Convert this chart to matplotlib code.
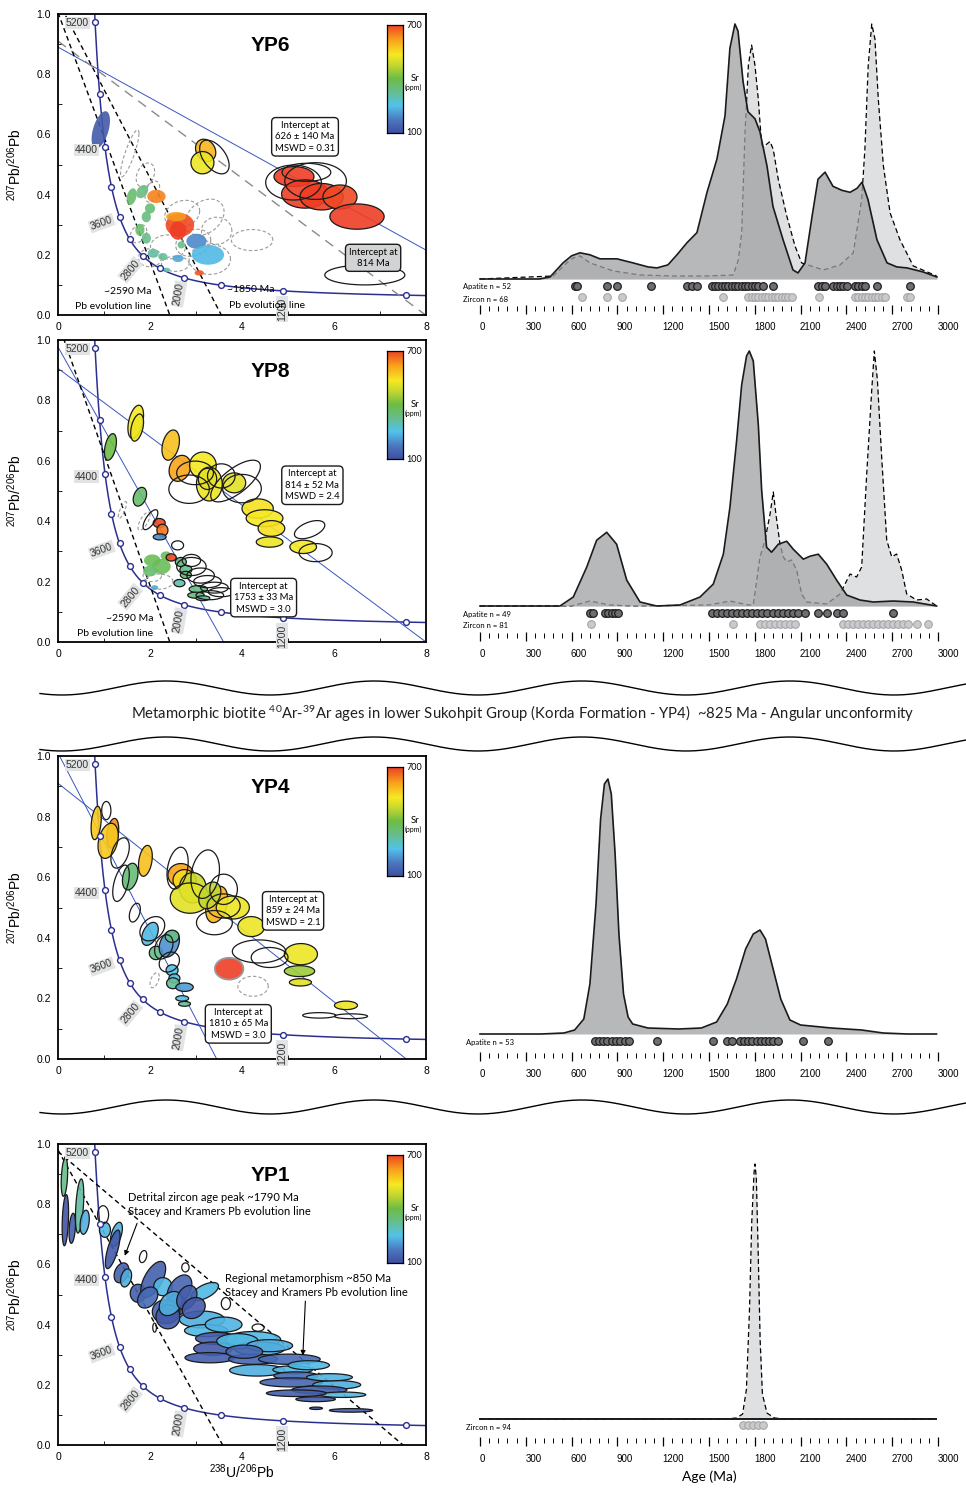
import numpy as np
import matplotlib
matplotlib.use("Agg")
import matplotlib.pyplot as plt
from matplotlib.patches import Polygon
from matplotlib.colors import LinearSegmentedColormap, Normalize

plt.rcParams['font.family'] = ['Liberation Sans', 'DejaVu Sans']
TXT = ['Lato', 'DejaVu Sans']

W, H = 966, 1488
fig = plt.figure(figsize=(W / 100, H / 100), dpi=100)


def px_axes(x0, y0, x1, y1):
    return fig.add_axes([x0 / W, 1 - y1 / H, (x1 - x0) / W, (y1 - y0) / H])


# ---------------- data ----------------
# concordia age ticks (Ma)
conc_ticks = [5200, 4800, 4400, 4000, 3600, 3200, 2800, 2400, 2000, 1600, 1200, 800]
conc_labels = ['5200', '4400', '3600', '2800', '2000', '1200']

# ellipses: centre (238U/206Pb, 207Pb/206Pb), half-extent in x and y, correlation, Sr (ppm), edge
yp6_x = [1.56, 1.90, 2.05, 4.22, 2.70, 3.19, 3.45, 2.94, 2.39, 2.00, 3.30, 2.55, 1.75,
         0.93, 3.21, 3.14, 5.13, 5.37, 5.73, 6.13, 6.50,
         1.60, 1.83, 2.14, 2.00, 1.92, 1.78, 1.92, 2.07, 2.28, 2.65, 2.57, 2.61,
         3.01, 3.26, 3.07, 2.61, 2.68, 2.36,
         3.40, 5.12, 5.60, 5.40, 6.67]
yp6_y = [0.537, 0.465, 0.41, 0.249, 0.336, 0.325, 0.28, 0.24, 0.226, 0.19, 0.185, 0.17, 0.27,
         0.615, 0.547, 0.506, 0.46, 0.402, 0.393, 0.392, 0.327,
         0.393, 0.41, 0.394, 0.354, 0.326, 0.283, 0.255, 0.205, 0.194, 0.299, 0.327, 0.28,
         0.245, 0.20, 0.14, 0.188, 0.233, 0.15,
         0.525, 0.44, 0.445, 0.474, 0.133]
yp6_rx = [0.20, 0.20, 0.16, 0.45, 0.38, 0.42, 0.33, 0.38, 0.38, 0.25, 0.45, 0.30, 0.18,
          0.20, 0.22, 0.25, 0.435, 0.51, 0.47, 0.37, 0.59,
          0.11, 0.13, 0.20, 0.11, 0.10, 0.10, 0.10, 0.12, 0.10, 0.31, 0.22, 0.18,
          0.22, 0.35, 0.10, 0.12, 0.08, 0.08,
          0.32, 0.605, 0.67, 0.53, 0.87]
yp6_ry = [0.078, 0.04, 0.035, 0.035, 0.045, 0.06, 0.045, 0.045, 0.04, 0.03, 0.05, 0.025, 0.03,
          0.062, 0.037, 0.037, 0.033, 0.047, 0.044, 0.04, 0.042,
          0.028, 0.022, 0.022, 0.017, 0.018, 0.02, 0.018, 0.015, 0.012, 0.039, 0.015, 0.03,
          0.025, 0.033, 0.009, 0.012, 0.012, 0.007,
          0.056, 0.058, 0.061, 0.03, 0.033]
yp6_rho = [0.85, 0.3, 0.4, 0.0, 0.2, 0.3, 0.0, 0.2, 0.0, 0.0, 0.0, 0.0, 0.3,
           0.5, -0.2, 0.0, 0.0, 0.0, 0.0, 0.0, 0.0,
           0.3, 0.3, 0.0, 0.0, 0.0, 0.0, 0.0, 0.0, 0.0, 0.0, 0.0, 0.0,
           0.0, 0.0, 0.0, 0.0, 0.0, 0.0,
           -0.5, 0.0, 0.0, 0.0, 0.0]
nan = np.nan
yp6_sr = [nan] * 13 + [120, 590, 520, 700, 700, 700, 690, 700,
                       360, 340, 640, 350, 340, 360, 330, 310, 320, 690, 620, 700,
                       190, 240, 680, 220, 330, 300] + [nan] * 5
yp6_edge = ['d'] * 13 + ['n', 'k', 'k', 'k', 'k', 'k', 'k', 'k'] + ['n'] * 18 + ['k'] * 5

yp8_x = [1.40, 1.87, 2.20, 2.05,
         2.05, 2.25, 2.00, 2.35, 2.10,
         1.69, 1.72, 1.14, 2.45, 2.65, 3.15, 3.29, 3.25, 3.83, 4.34, 4.49, 4.64, 4.60, 5.33,
         1.78, 2.20, 2.27, 2.21, 2.46, 2.67, 2.78, 2.78, 2.64, 3.05, 3.00, 3.15,
         2.98, 2.85, 3.86, 4.00, 3.55, 5.47, 5.60, 2.01, 2.60, 2.90, 3.10, 3.25, 3.40, 3.55, 3.30, 2.90]
yp8_y = [0.437, 0.40, 0.20, 0.22,
         0.27, 0.25, 0.235, 0.285, 0.18,
         0.729, 0.71, 0.646, 0.652, 0.575, 0.585, 0.523, 0.54, 0.527, 0.442, 0.41, 0.376, 0.331, 0.315,
         0.481, 0.394, 0.37, 0.348, 0.28, 0.265, 0.24, 0.222, 0.195, 0.175, 0.155, 0.145,
         0.56, 0.506, 0.533, 0.508, 0.55, 0.372, 0.296, 0.405, 0.32, 0.25, 0.22, 0.20, 0.18, 0.165, 0.155, 0.27]
yp8_rx = [0.09, 0.13, 0.30, 0.20,
          0.18, 0.20, 0.15, 0.12, 0.08,
          0.17, 0.14, 0.13, 0.19, 0.235, 0.29, 0.28, 0.20, 0.25, 0.34, 0.40, 0.29, 0.29, 0.29,
          0.145, 0.13, 0.12, 0.14, 0.11, 0.12, 0.13, 0.12, 0.12, 0.20, 0.18, 0.15,
          0.40, 0.44, 0.54, 0.42, 0.30, 0.33, 0.36, 0.16, 0.13, 0.32, 0.30, 0.30, 0.30, 0.28, 0.30, 0.20]
yp8_ry = [0.028, 0.03, 0.025, 0.02,
          0.02, 0.025, 0.018, 0.015, 0.008,
          0.055, 0.045, 0.044, 0.05, 0.043, 0.044, 0.056, 0.035, 0.033, 0.032, 0.028, 0.026, 0.017, 0.022,
          0.031, 0.015, 0.02, 0.01, 0.012, 0.015, 0.014, 0.012, 0.012, 0.012, 0.01, 0.008,
          0.039, 0.047, 0.069, 0.047, 0.04, 0.03, 0.03, 0.033, 0.015, 0.03, 0.025, 0.02, 0.018, 0.015, 0.015, 0.02]
yp8_rho = [0.8, 0.7, 0.0, 0.0,
           0.0, 0.0, 0.0, 0.0, 0.0,
           0.4, 0.4, 0.4, 0.3, 0.2, 0.0, 0.0, 0.0, 0.0, 0.0, 0.0, 0.0, 0.0, 0.0,
           0.3, 0.0, 0.0, 0.0, 0.0, 0.0, 0.0, 0.0, 0.0, 0.0, 0.0, 0.0,
           0.0, 0.0, 0.7, 0.0, 0.0, 0.5, 0.0, 0.7, 0.0, 0.0, 0.0, 0.0, 0.0, 0.0, 0.0, 0.0]
yp8_sr = [nan] * 4 + [380, 380, 360, 380, 220,
                      530, 520, 400, 580, 610, 530, 520, 510, 510, 540, 530, 540, 520, 530,
                      360, 690, 650, 190, 690, 340, 330, 350, 300, 330, 340, 320] + [nan] * 16
yp8_edge = ['d'] * 4 + ['n'] * 5 + ['k'] * 26 + ['k'] * 16

yp4_x = [4.24, 2.10,
         0.83, 1.19, 1.09, 1.90, 1.57, 2.67, 2.75, 2.93, 2.87, 3.45, 3.30, 3.80, 4.20,
         5.28, 5.25, 5.27, 6.26, 3.72,
         2.00, 2.13, 2.42, 2.48, 2.48, 2.53, 2.50, 2.75, 2.70, 2.75,
         1.35, 1.37, 1.67, 2.60, 3.20, 3.60, 3.40, 4.37, 4.60, 5.68, 6.37, 2.05, 2.42, 2.30, 3.60, 1.05]
yp4_y = [0.24, 0.26,
         0.779, 0.745, 0.72, 0.654, 0.602, 0.607, 0.59, 0.565, 0.531, 0.51, 0.54, 0.50, 0.437,
         0.346, 0.29, 0.253, 0.177, 0.298,
         0.413, 0.35, 0.38, 0.405, 0.293, 0.266, 0.25, 0.237, 0.20, 0.182,
         0.68, 0.58, 0.483, 0.63, 0.61, 0.505, 0.45, 0.355, 0.335, 0.144, 0.141, 0.43, 0.32, 0.37, 0.56, 0.82]
yp4_rx = [0.33, 0.10,
          0.11, 0.13, 0.22, 0.15, 0.17, 0.28, 0.25, 0.29, 0.43, 0.24, 0.24, 0.36, 0.29,
          0.36, 0.33, 0.24, 0.25, 0.31,
          0.18, 0.145, 0.22, 0.15, 0.13, 0.12, 0.14, 0.19, 0.14, 0.13,
          0.20, 0.18, 0.12, 0.23, 0.31, 0.36, 0.39, 0.58, 0.40, 0.36, 0.36, 0.27, 0.22, 0.20, 0.30, 0.10]
yp4_ry = [0.033, 0.025,
          0.055, 0.049, 0.058, 0.051, 0.044, 0.038, 0.035, 0.05, 0.05, 0.06, 0.044, 0.038, 0.033,
          0.035, 0.018, 0.012, 0.014, 0.036,
          0.038, 0.022, 0.044, 0.02, 0.018, 0.015, 0.018, 0.014, 0.009, 0.008,
          0.05, 0.06, 0.031, 0.069, 0.08, 0.04, 0.04, 0.038, 0.033, 0.009, 0.008, 0.04, 0.033, 0.04, 0.05, 0.03]
yp4_rho = [0.0, 0.5,
           0.3, 0.3, 0.3, 0.3, 0.3, 0.0, 0.0, 0.0, 0.0, 0.3, 0.3, 0.0, 0.0,
           0.0, 0.0, 0.0, 0.0, 0.0,
           0.4, 0.0, 0.3, 0.0, 0.0, 0.0, 0.0, 0.0, 0.0, 0.0,
           0.4, 0.5, 0.4, 0.3, 0.2, 0.0, 0.0, 0.0, 0.0, 0.0, 0.0, 0.3, 0.2, 0.3, 0.0, 0.0]
yp4_sr = [nan, nan,
          570, 630, 570, 580, 350, 610, 550, 480, 510, 590, 470, 520, 520,
          520, 440, 510, 520, 700,
          240, 330, 200, 330, 250, 260, 320, 210, 250, 320] + [nan] * 16
yp4_edge = ['d', 'd'] + ['k'] * 17 + ['g'] + ['k'] * 10 + ['k'] * 16

yp1_x = [0.14, 0.16, 0.31, 0.47, 0.58, 1.02, 1.27, 1.19, 1.38, 1.48, 1.74, 2.07, 2.28, 2.64, 2.57,
         2.35, 2.39, 3.19, 3.13, 3.22, 3.44, 4.24, 3.37, 3.30, 4.38, 4.24, 5.03, 4.33, 5.10, 5.17,
         5.07, 6.06, 5.68, 6.19, 5.18, 5.60, 6.37, 5.61,
         1.95, 2.45, 2.80, 2.95, 3.60, 3.90, 4.60, 4.05, 5.45, 5.90,
         0.98, 1.85, 2.77, 4.35, 2.10, 3.65]
yp1_y = [0.89, 0.747, 0.72, 0.794, 0.74, 0.715, 0.70, 0.65, 0.572, 0.555, 0.504, 0.55, 0.526, 0.515, 0.465,
         0.443, 0.426, 0.51, 0.417, 0.38, 0.354, 0.35, 0.32, 0.29, 0.32, 0.285, 0.285, 0.248, 0.25, 0.23,
         0.208, 0.20, 0.183, 0.167, 0.172, 0.152, 0.115, 0.122,
         0.49, 0.47, 0.49, 0.455, 0.40, 0.345, 0.33, 0.31, 0.265, 0.225,
         0.765, 0.626, 0.59, 0.39, 0.39, 0.47]
yp1_rx = [0.07, 0.07, 0.07, 0.09, 0.10, 0.12, 0.13, 0.16, 0.16, 0.12, 0.17, 0.27, 0.20, 0.27, 0.22,
          0.30, 0.26, 0.30, 0.49, 0.47, 0.45, 0.60, 0.42, 0.54, 0.55, 0.53, 0.67, 0.60, 0.43, 0.48,
          0.68, 0.52, 0.60, 0.50, 0.65, 0.43, 0.47, 0.14,
          0.22, 0.25, 0.22, 0.25, 0.40, 0.45, 0.50, 0.40, 0.45, 0.50,
          0.12, 0.08, 0.08, 0.13, 0.04, 0.10]
yp1_ry = [0.064, 0.085, 0.05, 0.09, 0.04, 0.025, 0.04, 0.064, 0.033, 0.03, 0.03, 0.06, 0.03, 0.05, 0.035,
          0.04, 0.04, 0.03, 0.028, 0.02, 0.02, 0.027, 0.022, 0.017, 0.022, 0.017, 0.017, 0.019, 0.013, 0.013,
          0.015, 0.014, 0.013, 0.009, 0.011, 0.008, 0.006, 0.004,
          0.035, 0.04, 0.04, 0.035, 0.025, 0.025, 0.02, 0.022, 0.015, 0.012,
          0.03, 0.02, 0.015, 0.012, 0.015, 0.02]
yp1_rho = [0.3, 0.3, 0.3, 0.4, 0.3, 0.0, 0.5, 0.7, 0.3, 0.3, 0.0, 0.6, 0.0, 0.4, 0.0,
           0.0, 0.0, 0.6, 0.0, 0.0, 0.0, 0.0, 0.0, 0.0, 0.0, 0.0, 0.0, 0.0, 0.0, 0.0,
           0.0, 0.0, 0.0, 0.0, 0.0, 0.0, 0.0, 0.0,
           0.3, 0.3, 0.3, 0.2, 0.0, 0.0, 0.0, 0.0, 0.0, 0.0,
           0.0, 0.3, 0.0, 0.0, 0.0, 0.0]
yp1_sr = [330, 110, 130, 310, 230, 240, 230, 120, 130, 230, 130, 130, 240, 140, 130,
          140, 120, 240, 230, 240, 130, 240, 120, 130, 230, 140, 150, 230, 240, 150,
          140, 230, 130, 240, 130, 120, 130, 110,
          150, 230, 130, 120, 235, 240, 230, 140, 240, 235] + [nan] * 6
yp1_edge = ['k'] * 54

# detrital age distributions: relative probability read at selected ages (Ma)
yp6_ap_age = [0, 390, 459, 544, 600, 655, 720, 786, 897, 1002, 1100, 1159, 1231, 1290, 1356, 1421,
              1487, 1552, 1605, 1637, 1670, 1690, 1723, 1755, 1801, 1834, 1880, 1919, 1985, 2050,
              2083, 2129, 2175, 2214, 2260, 2312, 2370, 2424, 2470, 2502, 2541, 2600, 2666, 2730,
              2797, 2902, 2993]
yp6_ap_den = [0, 0, 2, 16, 23, 26, 24, 20, 20, 16, 12, 11, 14, 24, 36, 46,
              86, 119, 162, 229, 253, 246, 196, 166, 159, 146, 112, 72, 39, 9,
              6, 16, 62, 99, 106, 92, 88, 86, 90, 96, 79, 39, 16, 12,
              11, 7, 2]
yp6_zr_age = [0, 480, 568, 611, 655, 721, 873, 1048, 1266, 1485, 1659, 1692, 1714, 1736, 1758,
              1779, 1801, 1823, 1845, 1867, 1900, 1921, 1954, 2009, 2063, 2107, 2249, 2358, 2445,
              2500, 2521, 2543, 2566, 2587, 2609, 2642, 2686, 2751, 2838, 2991]
yp6_zr_den = [0, 3, 16, 21, 23, 16, 8, 4, 3, 3, 4, 19, 46, 146, 213,
              233, 213, 179, 133, 133, 137, 129, 99, 63, 33, 16, 9, 14, 26,
              79, 129, 213, 254, 239, 179, 113, 66, 39, 13, 3]
yp8_ap_age = [0, 524, 611, 699, 764, 830, 895, 961, 1048, 1157, 1310, 1441, 1528, 1594, 1637,
              1681, 1714, 1746, 1764, 1790, 1823, 1845, 1877, 1910, 1954, 2009, 2052, 2118,
              2162, 2216, 2271, 2336, 2402, 2489, 2576, 2707, 2838, 2991]
yp8_ap_den = [0, 0, 9, 39, 66, 74, 62, 26, 4, 0, 1, 9, 22, 52, 99,
              166, 222, 251, 256, 246, 182, 116, 59, 54, 62, 65, 57, 47,
              50, 52, 42, 26, 11, 6, 4, 5, 4, 0]
yp8_zr_age = [0, 600, 720, 850, 1000, 1500, 1637, 1760, 1790, 1834, 1867, 1900, 1921, 1939,
              1965, 1987, 2009, 2041, 2074, 2107, 2140, 2271, 2358, 2424, 2467, 2500, 2533,
              2566, 2583, 2603, 2631, 2664, 2697, 2729, 2762, 2795, 2860, 2926, 2991]
yp8_zr_den = [0, 0, 5, 1, 0, 1, 5, 1, 1, 49, 66, 92, 114, 91,
              62, 49, 44, 46, 36, 12, 4, 2, 12, 32, 29, 39, 132,
              216, 255, 226, 149, 66, 49, 52, 36, 12, 6, 7, 0]
yp4_ap_age = [0, 400, 550, 620, 680, 720, 760, 790, 815, 838, 860, 885, 910, 940, 970, 1000,
              1100, 1300, 1450, 1550, 1620, 1680, 1740, 1790, 1834, 1870, 1920, 1970, 2030,
              2100, 2300, 2500, 2640, 2800, 2990]
yp4_ap_den = [0, 0, 1, 4, 15, 50, 130, 215, 250, 255, 240, 180, 100, 40, 17, 10,
              6, 5, 6, 12, 30, 55, 85, 100, 104, 95, 65, 35, 14,
              9, 6, 4, 1, 0, 0]
yp1_zr_age = [0, 1600, 1680, 1720, 1745, 1765, 1780, 1795, 1801, 1810, 1822, 1835, 1850,
              1880, 1930, 2000, 2990]
yp1_zr_den = [0, 0, 1, 5, 30, 110, 200, 250, 259, 245, 170, 80, 25,
              6, 1, 0, 0]

# individual grain ages (Ma)
yp6_ap_dots = [622, 637, 829, 895, 1118, 1354, 1386, 1419, 1517, 1539, 1561, 1583, 1605, 1626,
               1648, 1670, 1692, 1714, 1736, 1758, 1779, 1801, 1823, 1856, 1917, 2216, 2238,
               2260, 2314, 2336, 2358, 2380, 2402, 2456, 2478, 2500, 2521, 2598, 2816]
yp6_zr_dots = [666, 829, 928, 1594, 1758, 1779, 1801, 1823, 1845, 1867, 1889, 1910, 1932, 1954,
               1976, 1998, 2020, 2041, 2222, 2456, 2478, 2500, 2521, 2543, 2565, 2587, 2609,
               2631, 2653, 2795, 2816]
yp8_ap_dots = [721, 742, 819, 840, 862, 884, 906, 1517, 1550, 1583, 1616, 1648, 1681, 1714,
               1747, 1779, 1812, 1845, 1878, 1921, 1954, 1987, 2020, 2052, 2085, 2129, 2216,
               2271, 2336, 2380, 2707]
yp8_zr_dots = [725, 1659, 1834, 1867, 1900, 1932, 1965, 1998, 2031, 2063, 2380, 2413, 2445,
               2478, 2511, 2543, 2576, 2609, 2642, 2674, 2707, 2740, 2773, 2806, 2860, 2937]
yp4_ap_dots = [753, 782, 808, 834, 862, 888, 917, 950, 978, 1162, 1528, 1620, 1648, 1703,
               1729, 1758, 1784, 1812, 1838, 1867, 1893, 1921, 1954, 2118, 2282]
yp1_zr_dots = [1725, 1757, 1790, 1823, 1851]

# ---------------- helpers ----------------
sr_cmap = LinearSegmentedColormap.from_list('sr', [
    (0.00, '#3f4fa1'), (0.12, '#4b78bf'), (0.25, '#52c3ea'), (0.38, '#67bd8c'),
    (0.50, '#6cbd45'), (0.62, '#c2d72f'), (0.72, '#f7e922'), (0.85, '#f9a61c'),
    (1.00, '#ee3e24')])
sr_norm = Normalize(100, 700)

L238, L235, U85 = 1.55125e-10, 9.8485e-10, 137.88


def tera_wasserburg(t_ma):
    t = np.asarray(t_ma, dtype=float) * 1e6
    e8 = np.exp(L238 * t) - 1
    e5 = np.exp(L235 * t) - 1
    return 1 / e8, e5 / e8 / U85


def ellipse_xy(cx, cy, rx, ry, rho, n=90):
    t = np.linspace(0, 2 * np.pi, n)
    u, v = np.cos(t), np.sin(t)
    return np.column_stack([cx + rx * u, cy + ry * (rho * u + np.sqrt(1 - rho ** 2) * v)])


def draw_ellipses(ax, ex, ey, erx, ery, erho, esr, eedge):
    for x, y, rx, ry, r, sr, e in zip(ex, ey, erx, ery, erho, esr, eedge):
        if np.isfinite(sr):
            c = sr_cmap(sr_norm(sr))
            fc = (c[0], c[1], c[2], 0.9)
        else:
            fc = 'none'
        style = {'k': ('#1a1a1a', '-', 0.9), 'd': ('#9a9a9a', (0, (3, 2)), 0.8),
                 'g': ('#9a9a9a', '-', 1.3), 'n': ('none', '-', 0)}[e]
        ax.add_patch(Polygon(ellipse_xy(x, y, rx, ry, r), closed=True, fc=fc,
                             ec=style[0], ls=style[1], lw=style[2], zorder=3))


def tw_frame(ax, name, show_xlabel=False):
    ax.set_xlim(0, 8)
    ax.set_ylim(0, 1)
    ax.set_xticks([0, 2, 4, 6, 8])
    ax.set_yticks([0, 0.2, 0.4, 0.6, 0.8, 1.0])
    ax.set_yticklabels(['0.0', '0.2', '0.4', '0.6', '0.8', '1.0'])
    ax.set_xticks([1, 3, 5, 7], minor=True)
    ax.set_yticks([0.1, 0.3, 0.5, 0.7, 0.9], minor=True)
    ax.tick_params(which='major', direction='in', length=0, labelsize=7.5, pad=5)
    ax.tick_params(which='minor', direction='in', length=3, width=0.6)
    for s in ax.spines.values():
        s.set_linewidth(1.3)
    ax.text(0.576, 0.895, name, transform=ax.transAxes, ha='center', va='center',
            fontsize=15, fontweight='bold')
    # y label, centred 15 px from the figure's left edge
    ax.text(-43 / 368, 0.5, r'$\mathregular{^{207}Pb/^{206}Pb}$', transform=ax.transAxes,
            rotation=90, ha='center', va='center', fontsize=10)
    if show_xlabel:
        ax.set_xlabel(r'$\mathregular{^{238}U/^{206}Pb}$', fontsize=10, labelpad=0)

    # concordia
    tt = np.linspace(5600, 700, 700)
    cx, cy = tera_wasserburg(tt)
    ax.plot(cx, cy, color='#2b2f8f', lw=1.1, zorder=2)
    mx, my = tera_wasserburg(conc_ticks)
    ax.plot(mx, my, 'o', ms=4.2, mfc='white', mec='#2b2f8f', mew=1.0, zorder=5, clip_on=False)
    lab_pos = [(0.42, 0.97, 0), (0.62, 0.548, 0), (0.95, 0.305, 20), (1.57, 0.15, 50),
               (2.63, 0.07, 80), (4.87, 0.02, 90)]
    for lab, (lx, ly, rot) in zip(conc_labels, lab_pos):
        ax.text(lx, ly, lab, rotation=rot, ha='center', va='center', fontsize=7.5,
                color='#333333', zorder=6,
                bbox=dict(boxstyle='square,pad=0.12', fc='#e2e3e4', ec='none'))

    # Sr colour bar
    cax = ax.inset_axes([0.894, 0.605, 0.0435, 0.359])
    grad = np.linspace(0, 1, 256)[:, None]
    cax.imshow(grad, aspect='auto', cmap=sr_cmap, origin='lower', extent=(0, 1, 0, 1))
    cax.set_xticks([])
    cax.set_yticks([])
    for s in cax.spines.values():
        s.set_linewidth(0.9)
    ax.text(0.946, 0.963, '700', transform=ax.transAxes, fontsize=6.5, va='center', family=TXT)
    ax.text(0.946, 0.605, '100', transform=ax.transAxes, fontsize=6.5, va='center', family=TXT)
    ax.text(0.958, 0.787, 'Sr', transform=ax.transAxes, fontsize=7, va='center', family=TXT)
    ax.text(0.943, 0.757, '(ppm)', transform=ax.transAxes, fontsize=5, va='center', family=TXT)


def chord(ax, y0, x0, **kw):
    # straight line through (0, y0) and (x0, 0)
    xs = np.array([0, 8])
    ax.plot(xs, y0 * (1 - xs / x0), zorder=2.5, **kw)


def note(ax, x, y, s, fc='white'):
    ax.text(x, y, s, ha='center', va='center', fontsize=6.8, linespacing=1.35, family=TXT,
            zorder=7, bbox=dict(boxstyle='round,pad=0.35,rounding_size=0.45', fc=fc,
                                ec='#1a1a1a', lw=1.0))


BLUE = dict(color='#3a55c0', lw=0.7)
BLACKDASH = dict(color='k', lw=1.0, ls=(0, (3.5, 2.5)))
GREYDASH = dict(color='#8a8a8a', lw=1.0, ls=(0, (7, 5)))

# ---------------- TW panels ----------------
ax6 = px_axes(58, 14, 426, 315)
tw_frame(ax6, 'YP6')
chord(ax6, 0.89, 10.56, **BLUE)
chord(ax6, 0.91, 7.99, **GREYDASH)
chord(ax6, 1.005, 2.43, **BLACKDASH)
chord(ax6, 1.043, 3.55, **BLACKDASH)
draw_ellipses(ax6, yp6_x, yp6_y, yp6_rx, yp6_ry, yp6_rho, yp6_sr, yp6_edge)
note(ax6, 5.37, 0.592, 'Intercept at\n626 ± 140 Ma\nMSWD = 0.31')
note(ax6, 6.85, 0.19, 'Intercept at\n814 Ma', fc='#d1d3d4')
ax6.text(1.52, 0.078, '~2590 Ma', ha='center', va='center', fontsize=7.5, family=TXT, zorder=6)
ax6.text(1.20, 0.028, 'Pb evolution line', ha='center', va='center', fontsize=7.5, family=TXT, zorder=6)
ax6.text(4.20, 0.085, '~1850 Ma', ha='center', va='center', fontsize=7.5, family=TXT, zorder=6)
ax6.text(4.55, 0.033, 'Pb evolution line', ha='center', va='center', fontsize=7.5, family=TXT, zorder=6)

ax8 = px_axes(58, 340, 426, 642)
tw_frame(ax8, 'YP8')
chord(ax8, 0.906, 8.0, **BLUE)
chord(ax8, 0.977, 3.6, **BLUE)
chord(ax8, 1.058, 2.43, **BLACKDASH)
draw_ellipses(ax8, yp8_x, yp8_y, yp8_rx, yp8_ry, yp8_rho, yp8_sr, yp8_edge)
note(ax8, 5.53, 0.519, 'Intercept at\n814 ± 52 Ma\nMSWD = 2.4')
note(ax8, 4.47, 0.147, 'Intercept at\n1753 ± 33 Ma\nMSWD = 3.0')
ax8.text(1.56, 0.077, '~2590 Ma', ha='center', va='center', fontsize=7.5, family=TXT, zorder=6)
ax8.text(1.23, 0.028, 'Pb evolution line', ha='center', va='center', fontsize=7.5, family=TXT, zorder=6)

ax4 = px_axes(58, 756, 426, 1059)
tw_frame(ax4, 'YP4')
chord(ax4, 0.91, 7.57, **BLUE)
chord(ax4, 1.01, 3.45, **BLUE)
draw_ellipses(ax4, yp4_x, yp4_y, yp4_rx, yp4_ry, yp4_rho, yp4_sr, yp4_edge)
note(ax4, 5.11, 0.489, 'Intercept at\n859 ± 24 Ma\nMSWD = 2.1')
note(ax4, 3.92, 0.116, 'Intercept at\n1810 ± 65 Ma\nMSWD = 3.0')

ax1 = px_axes(58, 1144, 426, 1445)
tw_frame(ax1, 'YP1', show_xlabel=True)
chord(ax1, 0.98, 3.58, **BLACKDASH)
chord(ax1, 0.975, 7.5, **BLACKDASH)
draw_ellipses(ax1, yp1_x, yp1_y, yp1_rx, yp1_ry, yp1_rho, yp1_sr, yp1_edge)
ax1.text(1.52, 0.80, 'Detrital zircon age peak ~1790 Ma\nStacey and Kramers Pb evolution line',
         ha='left', va='center', fontsize=8, linespacing=1.3, family=TXT, zorder=7)
ax1.text(3.62, 0.531, 'Regional metamorphism ~850 Ma\nStacey and Kramers Pb evolution line',
         ha='left', va='center', fontsize=8, linespacing=1.3, family=TXT, zorder=7)
ax1.annotate('', xy=(1.43, 0.62), xytext=(1.74, 0.745), zorder=7,
             arrowprops=dict(arrowstyle='-|>', color='k', lw=0.8, mutation_scale=7))
ax1.annotate('', xy=(5.32, 0.288), xytext=(5.38, 0.487), zorder=7,
             arrowprops=dict(arrowstyle='-|>', color='k', lw=0.8, mutation_scale=7))

# ---------------- age distributions ----------------
SX = 3000 / 458.0
PEAK = 255.0
AP_FILL, ZR_FILL = '#9fa0a2', '#dfe0e2'


def kde_axes(top, bottom, base, two_rows):
    ax = px_axes(440, top, 966, bottom)
    ax.set_xlim((440 - 480) * SX, (966 - 480) * SX)
    ax.set_ylim(-(bottom - base), base - top)
    ax.axis('off')
    off = 0 if two_rows else 8
    # age scale
    for a in range(0, 3001, 60):
        major = a % 300 == 0
        y0, y1 = (-26 + off, -35 + off) if major else (-27 + off, -32 + off)
        ax.plot([a, a], [y0, y1], color='k', lw=0.9 if major else 0.7, solid_capstyle='butt')
        if major:
            ax.text(a - 4, -48 + off, str(a), ha='left', va='center', fontsize=7)
    return ax


def draw_zircon(ax, age, den):
    y = np.array(den, float) / max(den) * PEAK
    ax.fill_between(age, 0, y, color=ZR_FILL, lw=0, zorder=1)
    ax.plot(age, y, color='k', lw=0.9, ls=(0, (4, 2.5)), zorder=2)


def draw_apatite(ax, age, den):
    y = np.array(den, float) / max(den) * PEAK
    ax.fill_between(age, 0, y, color=AP_FILL, alpha=0.75, lw=0, zorder=3)
    ax.plot(age, y, color='#1a1a1a', lw=1.2, zorder=4)


def dots(ax, ages, y, apatite):
    if apatite:
        ax.plot(ages, [y] * len(ages), 'o', ms=5.5, mfc='#6d6e71', mec='#231f20', mew=0.9,
                zorder=5, clip_on=False)
    else:
        ax.plot(ages, [y] * len(ages), 'o', ms=5.5, mfc='#c9cacc', mec='#a4a6a9', mew=0.8,
                zorder=5, clip_on=False)


k6 = kde_axes(0, 345, 279, True)
draw_zircon(k6, yp6_zr_age, yp6_zr_den)
draw_apatite(k6, yp6_ap_age, yp6_ap_den)
dots(k6, yp6_ap_dots, -7, True)
dots(k6, yp6_zr_dots, -18, False)
k6.text((463 - 480) * SX, -8, 'Apatite n = 52', fontsize=5.5, va='center', family=TXT)
k6.text((463 - 480) * SX, -20, 'Zircon n = 68', fontsize=5.5, va='center', family=TXT)

k8 = kde_axes(345, 675, 606, True)
draw_zircon(k8, yp8_zr_age, yp8_zr_den)
draw_apatite(k8, yp8_ap_age, yp8_ap_den)
dots(k8, yp8_ap_dots, -7, True)
dots(k8, yp8_zr_dots, -18, False)
k8.text((463 - 480) * SX, -8, 'Apatite n = 49', fontsize=5.5, va='center', family=TXT)
k8.text((463 - 480) * SX, -20, 'Zircon n = 81', fontsize=5.5, va='center', family=TXT)

k4 = kde_axes(760, 1095, 1034, False)
draw_apatite(k4, yp4_ap_age, yp4_ap_den)
dots(k4, yp4_ap_dots, -7, True)
k4.text((466 - 480) * SX, -9, 'Apatite n = 53', fontsize=5.5, va='center', family=TXT)

k1 = kde_axes(1125, 1488, 1419, False)
draw_zircon(k1, yp1_zr_age, yp1_zr_den)
k1.plot([0, 2990], [0, 0], color='#1a1a1a', lw=1.4, zorder=4)
dots(k1, yp1_zr_dots, -6, False)
k1.text((466 - 480) * SX, -9, 'Zircon n = 94', fontsize=5.5, va='center', family=TXT)
k1.text(1500, -58, 'Age (Ma)', ha='center', va='center', fontsize=10, family=TXT)

# ---------------- separators ----------------
ov = fig.add_axes([0, 0, 1, 1], zorder=-1)
ov.set_xlim(0, W)
ov.set_ylim(H, 0)
ov.axis('off')
wx = np.linspace(40, 966, 900)
for yc in (688, 744, 1107):
    ov.plot(wx, yc - 7 * np.cos(2 * np.pi * (wx - 166) / 208), color='k', lw=1.0)
ov.text(523, 714, r'Metamorphic biotite $\mathregular{^{40}Ar}$-$\mathregular{^{39}Ar}$ ages in lower '
        'Sukohpit Group (Korda Formation - YP4)  ~825 Ma - Angular unconformity',
        ha='center', va='center', fontsize=10.7, family=TXT, color='#231f20')

fig.savefig('out.png', dpi=100)
